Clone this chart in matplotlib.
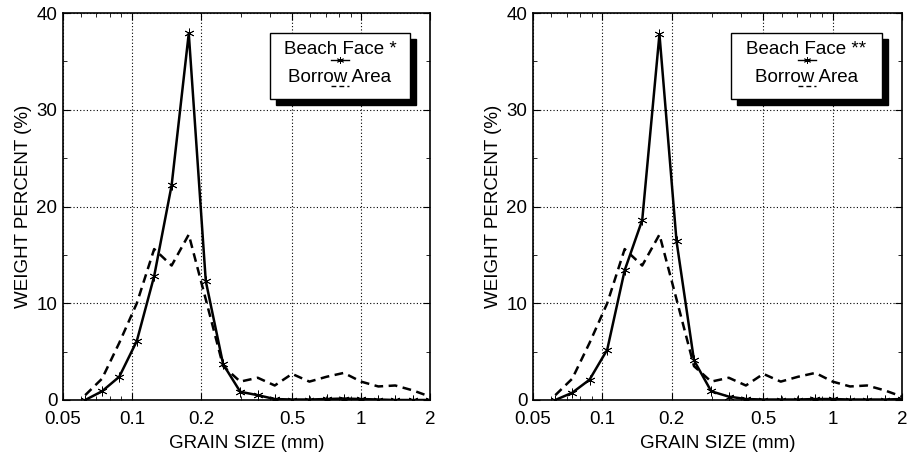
import numpy as np
import matplotlib
matplotlib.use("Agg")
import matplotlib.pyplot as plt
from matplotlib.patches import Rectangle
from matplotlib.lines import Line2D
from matplotlib.ticker import FixedLocator, LogLocator, NullFormatter, MultipleLocator

plt.rcParams["font.family"] = ["Liberation Sans", "DejaVu Sans"]

# quarter-phi sieve sizes (mm)
grain_size = [0.0625, 0.074, 0.088, 0.105, 0.125, 0.149, 0.177, 0.210, 0.250, 0.297,
              0.354, 0.420, 0.500, 0.595, 0.707, 0.841, 1.0, 1.19, 1.41, 1.68, 2.0]

beach_face_1 = [0.0, 0.9, 2.4, 6.1, 12.8, 22.2, 37.9, 12.3, 3.7, 0.85,
                0.5, 0.1, 0.05, 0.05, 0.1, 0.15, 0.1, 0.05, 0.0, 0.0, 0.0]
beach_face_2 = [0.0, 0.75, 2.1, 5.2, 13.4, 18.6, 37.8, 16.4, 4.1, 0.9,
                0.35, 0.1, 0.05, 0.05, 0.05, 0.1, 0.1, 0.05, 0.05, 0.05, 0.1]
borrow_area = [0.5, 2.2, 5.9, 10.0, 15.6, 13.9, 17.1, 10.4, 3.5, 1.9,
               2.3, 1.5, 2.7, 1.9, 2.4, 2.8, 1.9, 1.4, 1.5, 1.0, 0.35]

x_ticks = [0.05, 0.1, 0.2, 0.5, 1, 2]
x_tick_labels = ["0.05", "0.1", "0.2", "0.5", "1", "2"]
y_ticks = [0, 10, 20, 30, 40]

W, H = 911, 455
fig = plt.figure(figsize=(W / 100, H / 100), dpi=100)

asterisk = (6, 2, 0)
FS = 13.5
DASH = (0, (3.5, 2.2))


def px(x, y):
    return x / W, 1 - y / H


def draw_panel(left, right, beach, label, box):
    ax = fig.add_axes([left / W, 55 / H, (right - left) / W, 387 / H])
    ax.plot(grain_size, borrow_area, color="k", lw=1.8, ls=DASH)
    ax.plot(grain_size, beach, color="k", lw=1.8, marker=asterisk, ms=7, mew=0.6)
    ax.set_xscale("log")
    ax.set_xlim(0.05, 2)
    ax.set_ylim(0, 40)
    ax.xaxis.set_major_locator(FixedLocator(x_ticks))
    ax.set_xticklabels(x_tick_labels)
    ax.xaxis.set_minor_locator(LogLocator(base=10, subs=np.arange(2, 10)))
    ax.xaxis.set_minor_formatter(NullFormatter())
    ax.set_yticks(y_ticks)
    ax.yaxis.set_minor_locator(MultipleLocator(5))
    ax.tick_params(which="both", direction="in", top=True, right=True, labelsize=FS)
    ax.tick_params(axis="x", which="both", pad=8)
    ax.tick_params(axis="y", which="both", pad=4)
    ax.tick_params(which="major", length=5)
    ax.tick_params(which="minor", length=3)
    ax.grid(True, which="major", color="k", ls=(0, (1, 2)), lw=0.8)
    for s in ax.spines.values():
        s.set_linewidth(1.2)
    ax.set_xlabel("GRAIN SIZE (mm)", fontsize=FS, labelpad=5)
    ax.set_ylabel("WEIGHT PERCENT (%)", fontsize=FS, labelpad=3)

    # old-style legend box with drop shadow
    bx0, by0, bx1, by1 = box
    x0, y1 = px(bx0, by0)
    x1, y0 = px(bx1, by1)
    sh = 6 / W, 6 / H
    fig.add_artist(Rectangle((x0 + sh[0], y0 - sh[1]), x1 - x0, y1 - y0,
                             transform=fig.transFigure, facecolor="k", edgecolor="k", zorder=5))
    fig.add_artist(Rectangle((x0, y0), x1 - x0, y1 - y0, transform=fig.transFigure,
                             facecolor="w", edgecolor="k", lw=1.0, zorder=6))
    cx = (bx0 + bx1) / 2
    fig.text(*px(cx, 50), label, ha="center", va="center", fontsize=FS, zorder=7)
    fig.text(*px(cx, 77), "Borrow Area", ha="center", va="center", fontsize=FS, zorder=7)
    lx0, ly = px(cx - 9, 60)
    lx1, _ = px(cx + 9, 60)
    fig.add_artist(Line2D([lx0, lx1], [ly, ly], transform=fig.transFigure, color="k", lw=1.0, zorder=8))
    fig.add_artist(Line2D([(lx0 + lx1) / 2], [ly], transform=fig.transFigure, color="k",
                          marker=asterisk, ms=5, mew=0.6, zorder=8))
    _, ly2 = px(cx, 86)
    fig.add_artist(Line2D([lx0, lx1], [ly2, ly2], transform=fig.transFigure, color="k",
                          lw=1.0, ls=DASH, zorder=8))
    return ax


draw_panel(63, 430, beach_face_1, "Beach Face *", (270, 33, 410, 99))
draw_panel(533, 902, beach_face_2, "Beach Face **", (731, 33, 882, 99))

fig.savefig("out.png", dpi=100, facecolor="white")
